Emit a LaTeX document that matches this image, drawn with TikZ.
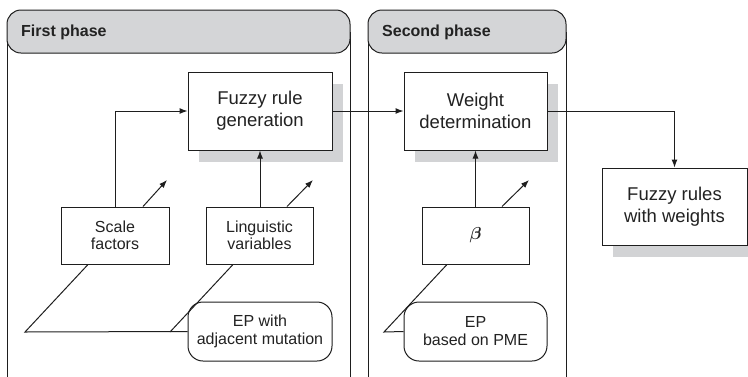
\documentclass[tikz,border=0pt]{standalone}
\usepackage{amsmath}
\usepackage{fontspec}
\setmainfont{Liberation Sans}
\usetikzlibrary{arrows.meta,shadows}
\definecolor{linec}{HTML}{1E1E1E}
\definecolor{textc}{HTML}{222222}
\definecolor{shadowc}{HTML}{D2D3D5}
\definecolor{headc}{HTML}{D4D5D7}
\tikzset{
  conn/.style={draw=linec, line width=1pt},
  arr/.style={conn, -{Latex[length=8pt,width=6pt]}},
  bigbox/.style={draw=linec, line width=1pt, fill=white, align=center, text=textc,
     minimum width=144pt, minimum height=78pt, inner sep=0pt,
     font=\fontsize{18.5}{22}\selectfont,
     general shadow={fill=shadowc, shadow xshift=10.5pt, shadow yshift=-11.5pt}},
  smallbox/.style={draw=linec, line width=1pt, fill=white, align=center, text=textc,
     minimum width=107pt, minimum height=57pt, inner sep=0pt,
     font=\fontsize{16}{17.5}\selectfont},
  epbox/.style={draw=linec, line width=1pt, fill=white, align=center, text=textc,
     rounded corners=15pt, minimum width=144pt, minimum height=59pt, inner sep=0pt,
     font=\fontsize{16}{18}\selectfont},
  header/.style={draw=linec, line width=1pt, fill=headc, rounded corners=14pt},
  headtext/.style={anchor=west, text=textc, font=\fontsize{16}{18}\selectfont\bfseries, inner sep=0pt},
}
\begin{document}
\begin{tikzpicture}[x=1pt,y=-1pt]
\useasboundingbox (0,0) rectangle (748,376);
% panels
\draw[conn] (7,32) -- (7,380);
\draw[conn] (350,32) -- (350,380);
\draw[conn] (368,32) -- (368,380);
\draw[conn] (566,32) -- (566,380);
\draw[header] (7,10) rectangle (350,53);
\draw[header] (368,10) rectangle (566,53);
\node[headtext] (h1) at (21,32) {First phase};
\node[headtext] (h2) at (382,32) {Second phase};
% boxes
\node[bigbox] (frg) at (260,111) {Fuzzy rule\\generation};
\node[bigbox, minimum width=143pt] (wd) at (475.5,111) {Weight\\determination};
\node[bigbox, minimum width=145pt, minimum height=77pt] (fr) at (674.5,206.5) {Fuzzy rules\\with weights};
\node[smallbox, minimum width=108pt] (sf) at (115,235.5) {Scale\\factors};
\node[smallbox] (lv) at (259.5,235.5) {Linguistic\\variables};
\node[smallbox] (beta) at (475.5,235.5) {\fontsize{17}{17}\selectfont$\boldsymbol{\beta}$};
\node[epbox] (ep1) at (260,331.5) {EP with\\adjacent mutation};
\node[epbox, minimum width=143pt] (ep2) at (475.5,331.5) {EP\\based on PME};
% coordinates
\coordinate (t1) at (167,180);
\coordinate (t2) at (313,180);
\coordinate (t3) at (529,180);
\coordinate (b1) at (25,332);
\coordinate (b2) at (170,332);
\coordinate (b3) at (384,332);
% connectors
\draw[arr] (sf.north) |- (frg.west);
\draw[arr] (lv.north -| frg.south) -- (frg.south);
\draw[arr] (beta.north) -- (wd.south);
\draw[arr] (frg.east) -- (wd.east -| wd.west);
\draw[arr] (wd.east) -| (fr.north);
\draw[arr] ([xshift=28pt]sf.north) -- (t1);
\draw[arr] ([xshift=27.5pt]lv.north) -- (t2);
\draw[arr] ([xshift=26.5pt]beta.north) -- (t3);
\draw[conn] ([xshift=-27pt]sf.south) -- (b1) -- (ep1.west);
\draw[conn] ([xshift=-26.5pt]lv.south) -- (b2);
\draw[conn] ([xshift=-28.5pt]beta.south) -- (b3) -- (ep2.west);
\end{tikzpicture}
\end{document}
